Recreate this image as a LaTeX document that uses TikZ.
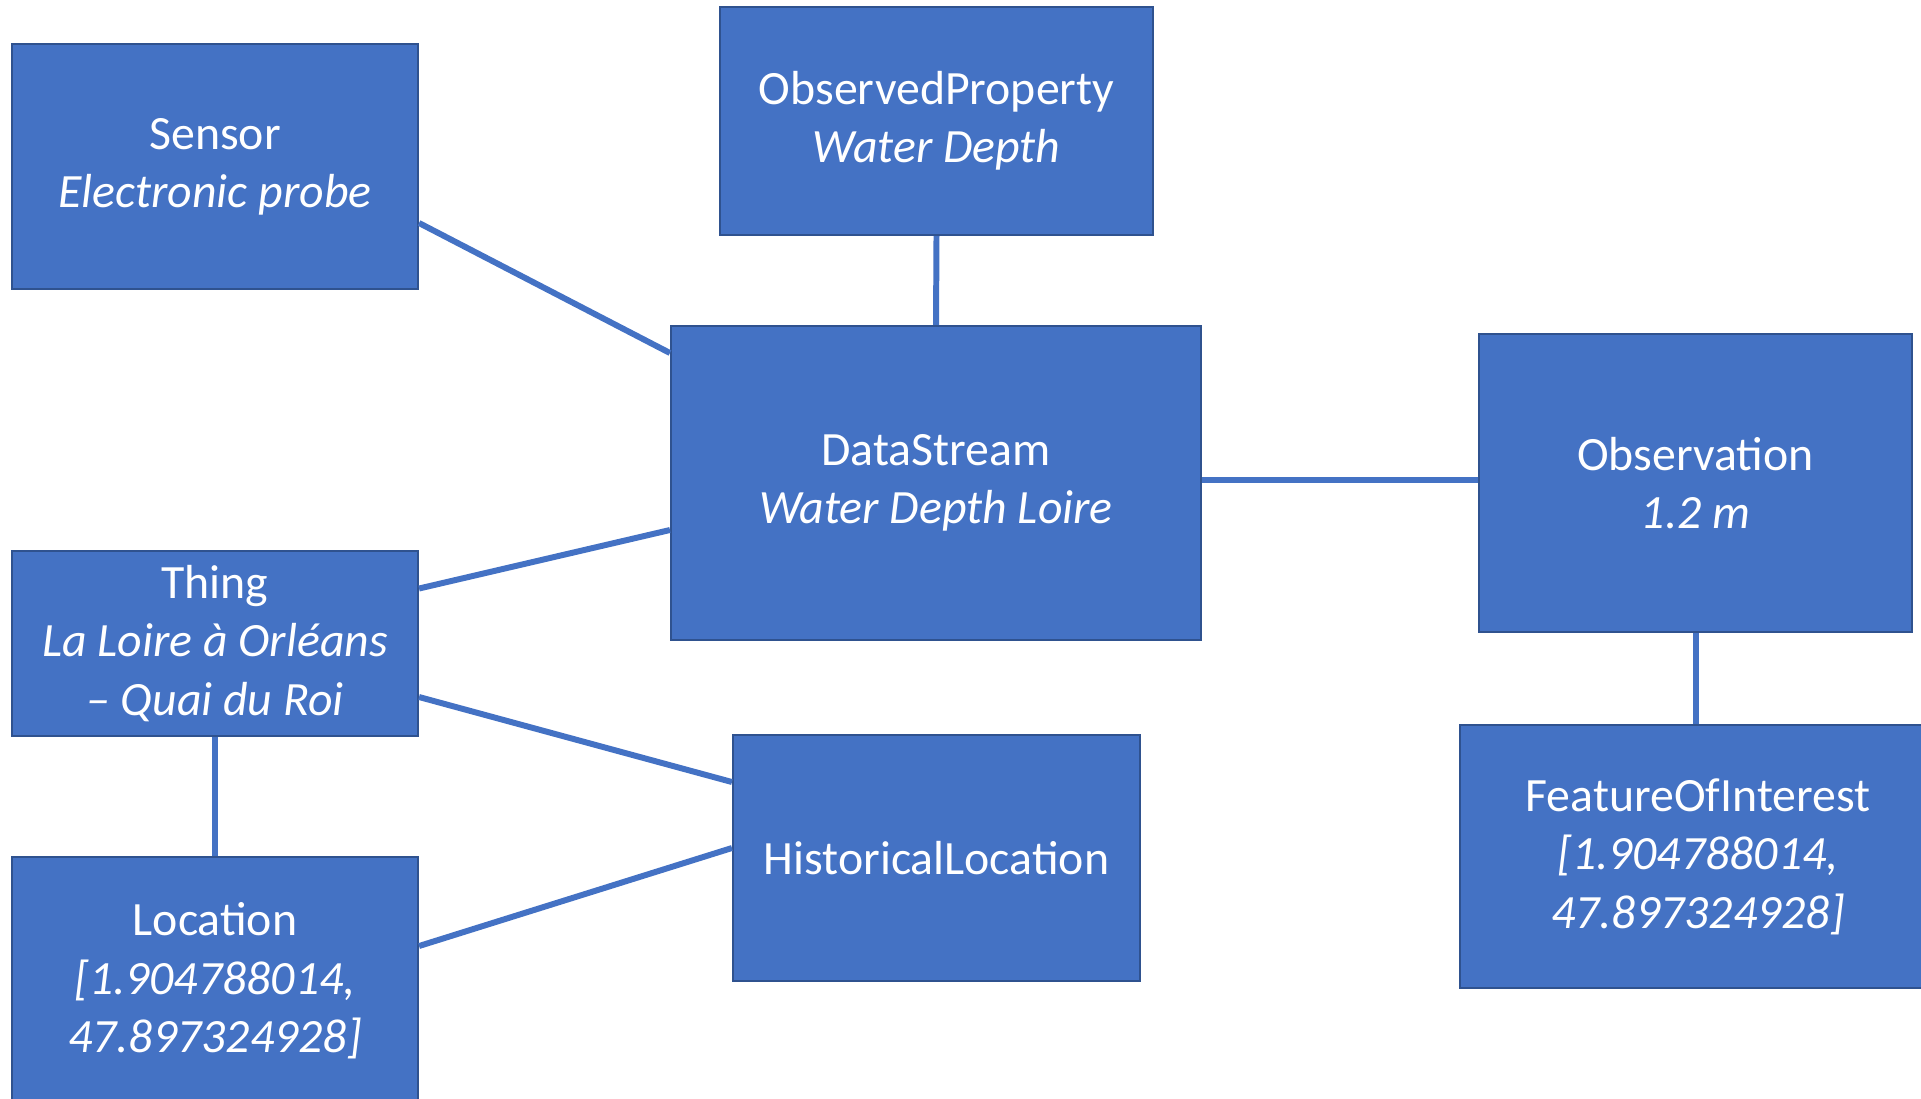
\documentclass[tikz,border=0pt]{standalone}
\usepackage{fontspec}
\setmainfont{Carlito}
\usetikzlibrary{calc}

\definecolor{boxblue}{HTML}{4472C4}
\definecolor{boxedge}{HTML}{2F528F}

\tikzset{
  entity/.style={draw=boxedge, fill=boxblue, text=white, line width=0.6pt,
    align=center, inner sep=0pt,
    font=\fontsize{13.6pt}{16.6pt}\selectfont},
  link/.style={draw=boxblue, line width=1.7pt}
}

\begin{document}
\begin{tikzpicture}[x=0.1mm, y=-0.1mm]
                \clip (0,0) rectangle (1921,1098);

                % Entities
                \node[entity, minimum width=40.6mm, minimum height=24.5mm] (sensor) at (215,166.5)
                    {Sensor\\\textit{Electronic probe}};
                \node[entity, minimum width=43.3mm, minimum height=22.8mm] (obsprop) at (936.5,121)
                    {ObservedProperty\\\textit{Water Depth}};
                \node[entity, minimum width=53mm, minimum height=31.4mm] (datastream) at (936,483)
                    {DataStream\\\textit{Water Depth Loire}};
                \node[entity, minimum width=43.3mm, minimum height=29.8mm] (observation) at (1695.5,483)
                    {Observation\\\textit{1.2 m}};
                \node[entity, minimum width=40.6mm, minimum height=18.5mm] (thing) at (215,643.5)
                    {Thing\\\textit{La Loire à Orléans}\\\textit{– Quai du Roi}};
                \node[entity, minimum width=40.7mm, minimum height=24.6mm] (histloc) at (936.5,858)
                    {HistoricalLocation};
                \node[entity, minimum width=40.6mm, minimum height=24.8mm] (location) at (215,981)
                    {Location\\\textit{[1.904788014,}\\\textit{47.897324928]}};
                \node[entity, minimum width=47.6mm, minimum height=26.3mm] (foi) at (1698,856.5)
                    {FeatureOfInterest\\\textit{[1.904788014,}\\\textit{47.897324928]}};

                % Connectors
                \draw[link] ($(sensor.east)+(0,56.5)$) -- ($(datastream.west)+(0,-130)$);
                \draw[link] (obsprop.south) -- (datastream.north);
                \draw[link] ($(datastream.east)+(0,-3)$) -- ($(observation.west)+(0,-3)$);
                \draw[link] (observation.south) -- (observation.south |- foi.north);
                \draw[link] ($(thing.east)+(0,-55)$) -- ($(datastream.west)+(0,47)$);
                \draw[link] ($(thing.east)+(0,53.5)$) -- ($(histloc.west)+(0,-76)$);
                \draw[link] ($(location.east)+(0,-35)$) -- ($(histloc.west)+(0,-10)$);
                \draw[link] (thing.south) -- (location.north);
            \end{tikzpicture}
\end{document}
